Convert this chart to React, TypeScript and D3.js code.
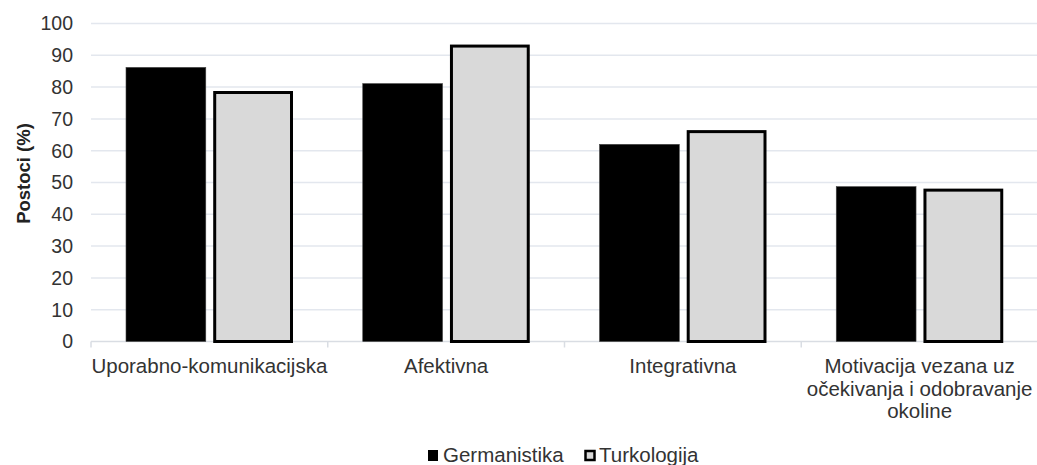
import React, { useMemo } from "react";
import * as d3 from "d3";

// chart values
const categories = [
  "Uporabno-komunikacijska",
  "Afektivna",
  "Integrativna",
  "Motivacija vezana uz očekivanja i odobravanje okoline",
];
const seriesNames = ["Germanistika", "Turkologija"];
const germanistika = [86.2, 81.1, 62.0, 48.7];
const turkologija = [78.3, 92.9, 66.0, 47.6];
const yTicks = [0, 10, 20, 30, 40, 50, 60, 70, 80, 90, 100];
const yLabel = "Postoci (%)";

const W = 1037;
const H = 465;
const FONT = "'Liberation Sans', Arial, sans-serif";
const FS = 19.5;
const CAT_FS = 20.5;

const fills = ["#000000", "#d9d9d9"];

// break a label into lines that fit maxW
function wrap(text: string, maxW: number, font: string) {
  const ctx = document.createElement("canvas").getContext("2d")!;
  ctx.font = font;
  const words = text.split(" ");
  const lines: string[] = [];
  let cur = "";
  for (const w of words) {
    const test = cur ? cur + " " + w : w;
    if (cur && ctx.measureText(test).width > maxW) {
      lines.push(cur);
      cur = w;
    } else cur = test;
  }
  if (cur) lines.push(cur);
  return lines;
}

export default function App() {
  const x = d3.scaleBand<string>().domain(categories).range([91, 1038]);
  const xs = d3
    .scaleBand<string>()
    .domain(seriesNames)
    .range([35, 202])
    .paddingInner(0.085);
  const y = d3.scaleLinear().domain([0, 100]).range([341.5, 23.5]);

  const rows = categories.map((c, i) => ({
    cat: c,
    vals: [germanistika[i], turkologija[i]],
  }));

  const wrapped = useMemo(
    () => categories.map((c) => wrap(c, 236, `${CAT_FS}px ${FONT}`)),
    []
  );

  const bounds = [...categories.map((c) => x(c)!), x.range()[1]];

  return (
    <svg
      width={W}
      height={H}
      style={{ position: "absolute", left: 0, top: 0, background: "#fff" }}
      fontFamily={FONT}
    >
      {/* gridlines */}
      {yTicks.map((t) => (
        <line
          key={t}
          x1={91}
          x2={W}
          y1={y(t)}
          y2={y(t)}
          stroke={t === 0 ? "#d9dde3" : "#e3e7ee"}
          strokeWidth={1.5}
        />
      ))}
      {/* category tick marks */}
      {bounds.map((b, i) => (
        <line key={i} x1={b} x2={b} y1={y(0)} y2={y(0) + 6} stroke="#d9dde3" strokeWidth={1.5} />
      ))}
      {/* y tick labels */}
      {yTicks.map((t) => (
        <text
          key={t}
          x={73}
          y={y(t)}
          dy="0.35em"
          textAnchor="end"
          fontSize={FS}
          fill="#333"
        >
          {t}
        </text>
      ))}
      <text
        transform={`translate(24,${(y(0) + y(100)) / 2 - 9}) rotate(-90)`}
        textAnchor="middle"
        dy="0.35em"
        fontSize={18.5}
        fontWeight="bold"
        fill="#222"
      >
        {yLabel}
      </text>
      {/* bars */}
      {rows.map((r) => (
        <g key={r.cat} transform={`translate(${x(r.cat)},0)`}>
          {r.vals.map((v, j) =>
            j === 0 ? (
              <rect
                key={j}
                x={xs(seriesNames[j])}
                width={xs.bandwidth()}
                y={y(v)}
                height={y(0) - y(v)}
                fill={fills[j]}
                stroke="#444"
                strokeWidth={0.6}
              />
            ) : (
              <rect
                key={j}
                x={xs(seriesNames[j])! + 1.5}
                width={xs.bandwidth() - 3}
                y={y(v)}
                height={y(0) - y(v)}
                fill={fills[j]}
                stroke="#000"
                strokeWidth={3}
              />
            )
          )}
        </g>
      ))}
      {/* category labels */}
      {categories.map((c, i) => (
        <text
          key={c}
          x={x(c)! + x.bandwidth() / 2}
          y={373}
          textAnchor="middle"
          fontSize={CAT_FS}
          fill="#333"
        >
          {wrapped[i].map((l, k) => (
            <tspan key={k} x={x(c)! + x.bandwidth() / 2} dy={k === 0 ? 0 : 22.5}>
              {l}
            </tspan>
          ))}
        </text>
      ))}
      {/* legend */}
      <g>
        <rect x={428} y={450} width={10} height={11} fill="#000" />
        <text x={443} y={462} fontSize={CAT_FS} fill="#333">
          {seriesNames[0]}
        </text>
        <rect x={585.5} y={451} width={9} height={9} fill="#d9d9d9" stroke="#000" strokeWidth={2.5} />
        <text x={599} y={462} fontSize={CAT_FS} fill="#333">
          {seriesNames[1]}
        </text>
      </g>
    </svg>
  );
}
